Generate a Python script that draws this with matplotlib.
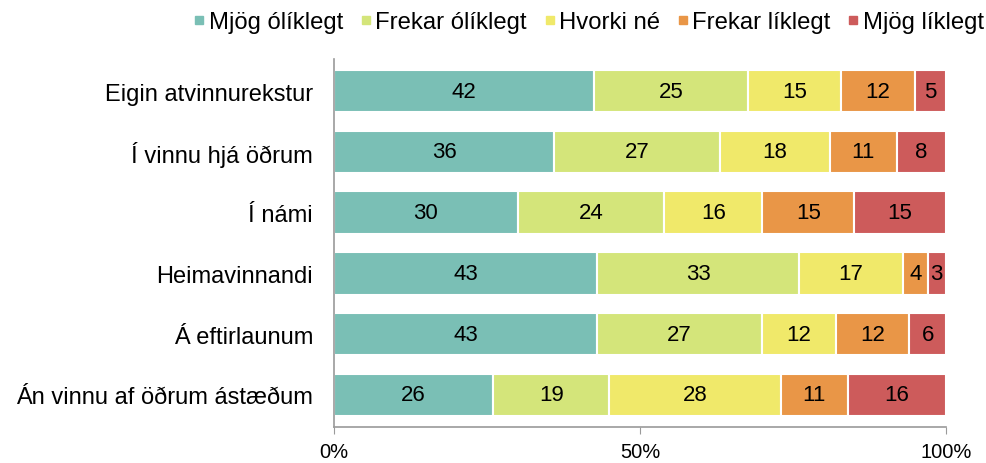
import matplotlib
matplotlib.use("Agg")
import matplotlib.pyplot as plt
from matplotlib.lines import Line2D
import numpy as np

plt.rcParams['font.family'] = ['Liberation Sans', 'DejaVu Sans']

categories = ["Eigin atvinnurekstur", "Í vinnu hjá öðrum", "Í námi",
              "Heimavinnandi", "Á eftirlaunum", "Án vinnu af öðrum ástæðum"]
series_names = ["Mjög ólíklegt", "Frekar ólíklegt", "Hvorki né",
                "Frekar líklegt", "Mjög líklegt"]
mjog_olikl = [42, 36, 30, 43, 43, 26]
frekar_olikl = [25, 27, 24, 33, 27, 19]
hvorki = [15, 18, 16, 17, 12, 28]
frekar_likl = [12, 11, 15, 4, 12, 11]
mjog_likl = [5, 8, 15, 3, 6, 16]
colors = ["#7abfb5", "#d4e57a", "#f0e96a", "#e99647", "#cd5b5b"]
x_ticks = [0, 50, 100]
x_tick_labels = ["0%", "50%", "100%"]

values = np.array([mjog_olikl, frekar_olikl, hvorki, frekar_likl, mjog_likl], dtype=float)
shares = values / values.sum(axis=0) * 100

fig = plt.figure(figsize=(9.86, 4.64), dpi=100)
ax = fig.add_axes([0.3387, 0.0776, 0.6207, 0.7931])

y = np.arange(len(categories))
left = np.zeros(len(categories))
for i, name in enumerate(series_names):
    bars = ax.barh(y, shares[i], left=left, height=0.7, color=colors[i],
                   edgecolor="white", linewidth=1.5)
    for j, b in enumerate(bars):
        ax.text(left[j] + shares[i][j] / 2, y[j], f"{int(values[i][j])}",
                ha="center", va="center", fontsize=16, color="black")
    left += shares[i]

ax.set_xlim(0, 100)
ax.set_ylim(len(categories) - 0.47, -0.53)
ax.set_yticks(y)
ax.set_yticklabels(categories, fontsize=17)
ax.tick_params(axis="y", length=0, pad=15)
ax.set_xticks(x_ticks)
ax.set_xticklabels(x_tick_labels, fontsize=14.5)
ax.tick_params(axis="x", length=5, color="#9a9a9a", pad=6)
for s in ["top", "right"]:
    ax.spines[s].set_visible(False)
for s in ["left", "bottom"]:
    ax.spines[s].set_color("#9a9a9a")
    ax.spines[s].set_linewidth(1.2)

handles = [Line2D([], [], linestyle="none", marker="s", markersize=5.5,
                  markerfacecolor=c, markeredgecolor=c) for c in colors]
fig.legend(handles, series_names, loc="upper right", bbox_to_anchor=(1.01, 1.0),
           ncol=5, frameon=False, fontsize=17.2, handlelength=0.35,
           handletextpad=0.22, columnspacing=0.78, borderaxespad=0.1)

fig.savefig("out.png", dpi=100)
